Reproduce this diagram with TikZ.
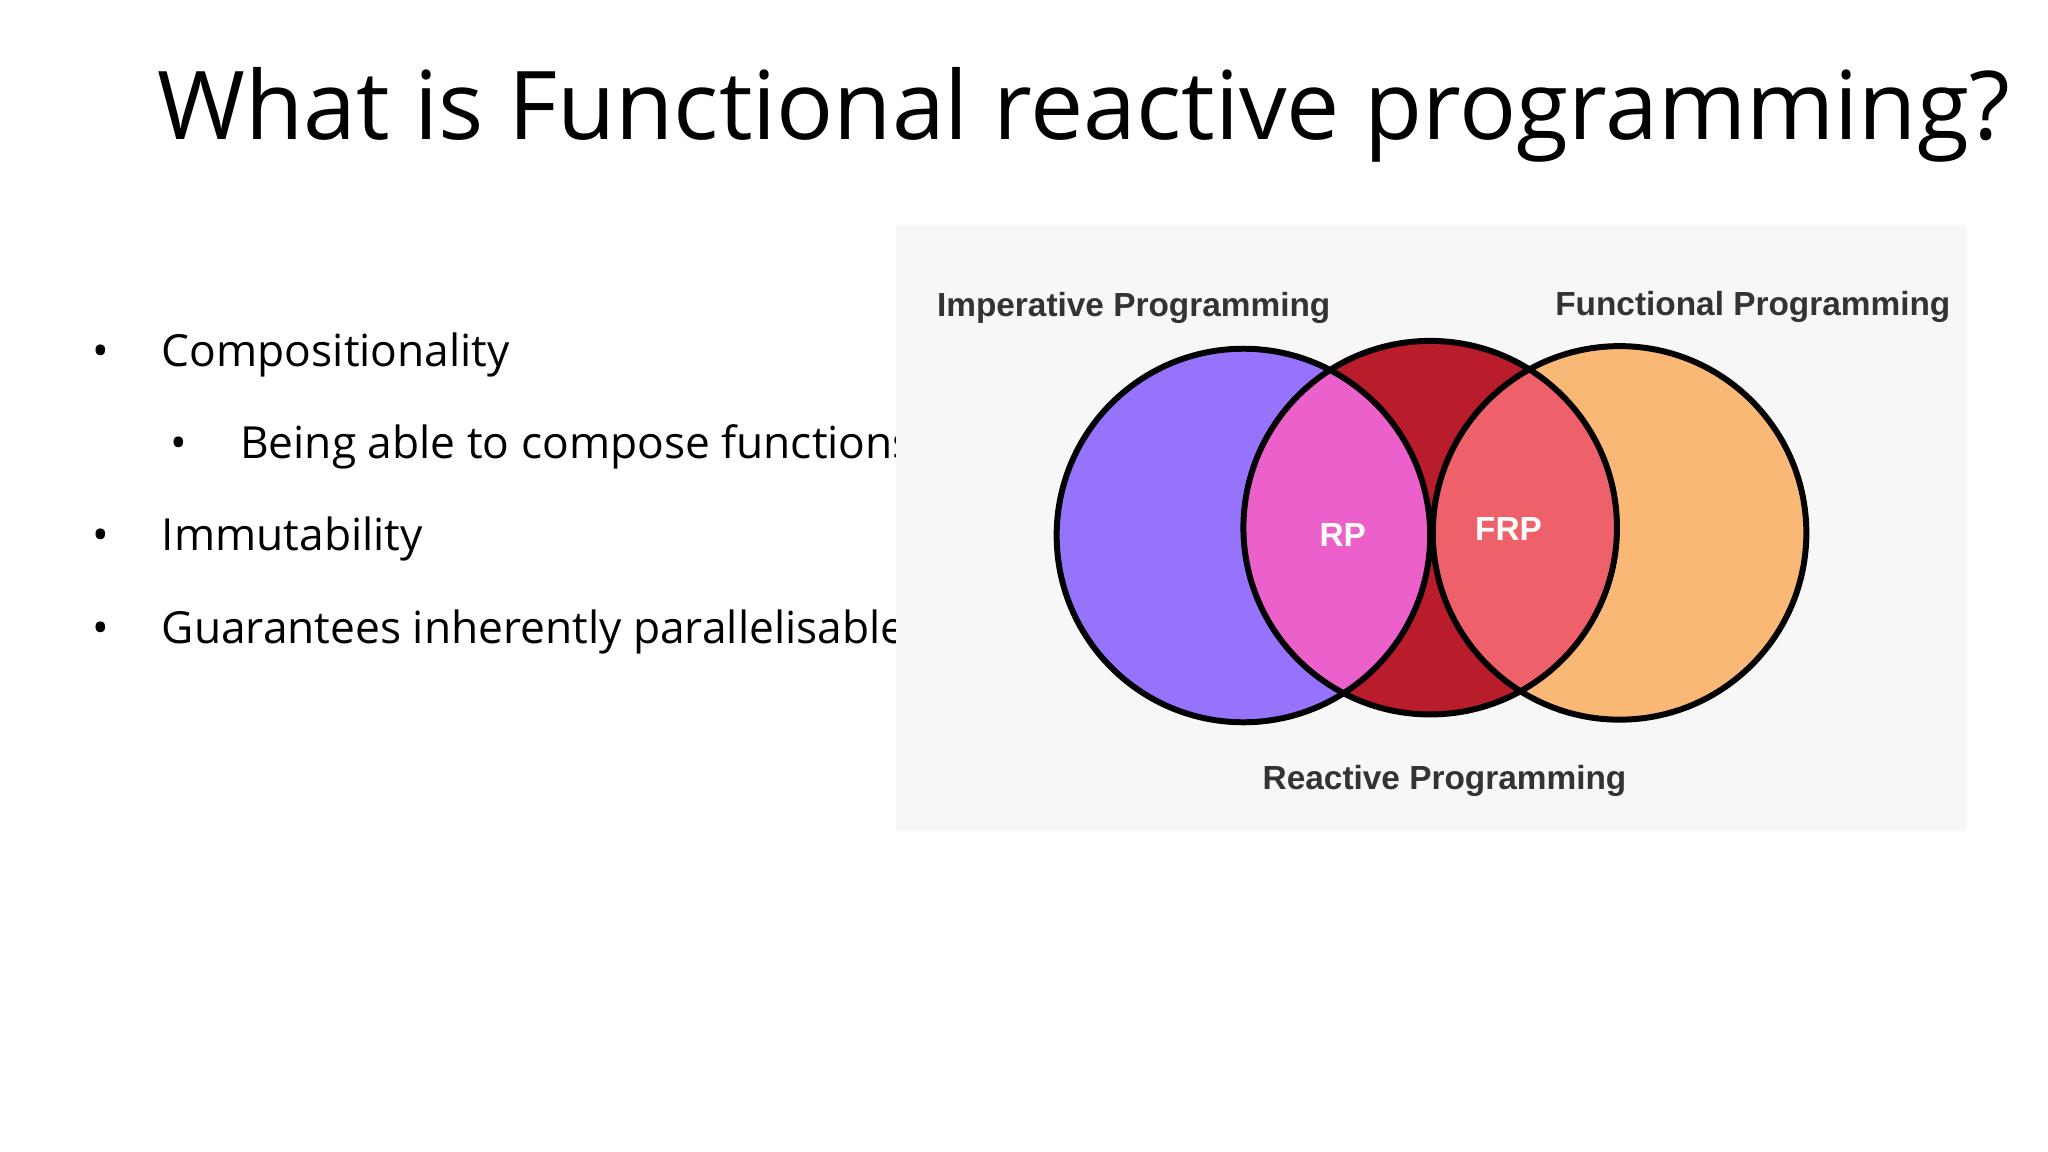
\documentclass[tikz,border=0pt]{standalone}
\usepackage{fontspec}
\setmainfont{Open Sans}
\newfontfamily\vennfont{Liberation Sans}
\begin{document}
\begin{tikzpicture}[x=0.013061cm,y=-0.013061cm,
  bul/.style={anchor=west,inner sep=0pt,font=\fontsize{12.6pt}{14pt}\selectfont},
  vlab/.style={font=\vennfont\bfseries\fontsize{9.5pt}{11pt}\selectfont,text=black!80},
  inlab/.style={font=\vennfont\bfseries\fontsize{9.5pt}{11pt}\selectfont,text=white!95!pink}]
\useasboundingbox (0,0) rectangle (1568,882);
\fill[white] (0,0) rectangle (1568,882);
\node[anchor=base west,inner sep=0pt,font=\fontsize{27pt}{32pt}\selectfont] (title) at (120,107) {What is Functional reactive programming?};
\node[bul] (b1) at (70,272) {•\hspace{1.2em}Compositionality};
\node[bul] (b2) at (130,342) {•\hspace{1.2em}Being able to compose functions};
\node[bul] (b3) at (70,413) {•\hspace{1.2em}Immutability};
\node[bul] (b4) at (70,484) {•\hspace{1.2em}Guarantees inherently parallelisable};
\fill[black!3] (686,172) rectangle (1506,636);
\def\cL{(952,410) circle (143)}
\def\cM{(1095,404) circle (143)}
\def\cR{(1240,408) circle (143)}
\fill[color={rgb,255:red,150;green,115;blue,252}] \cL;
\fill[color={rgb,255:red,249;green,184;blue,118}] \cR;
\fill[color={rgb,255:red,185;green,28;blue,42}] \cM;
\begin{scope}\clip \cM; \fill[color={rgb,255:red,236;green,96;blue,204}] \cL; \end{scope}
\begin{scope}\clip \cM; \fill[color={rgb,255:red,238;green,96;blue,106}] \cR; \end{scope}
\draw[line width=1.7pt] \cL \cM \cR;
\node[inlab] (rp) at (1028,410) {RP};
\node[inlab] (frp) at (1155,405) {FRP};
\node[vlab] (imp) at (868,236) {Imperative Programming};
\node[vlab] (fun) at (1342,235) {Functional Programming};
\node[vlab] (rea) at (1106,598) {Reactive Programming};
\end{tikzpicture}
\end{document}
